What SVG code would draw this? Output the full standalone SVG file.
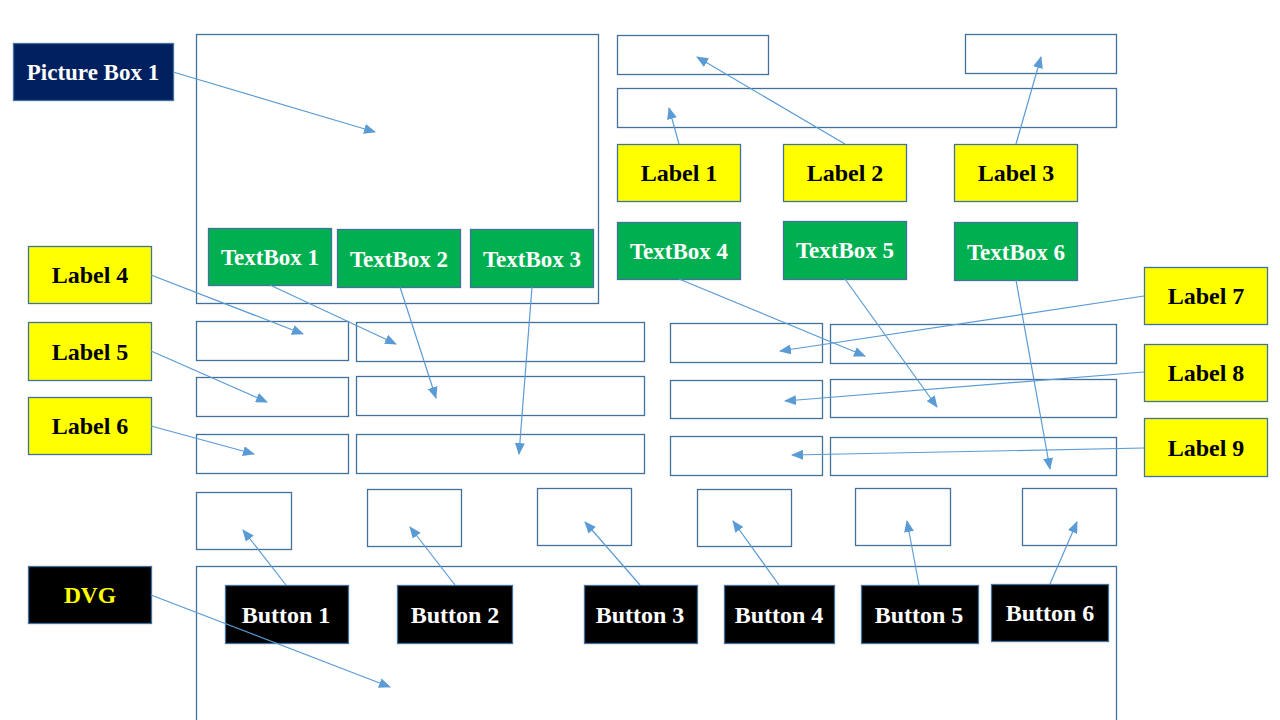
<svg xmlns="http://www.w3.org/2000/svg" width="1280" height="720" viewBox="0 0 1280 720">
<style>
.frame{fill:none;stroke:#41719C;stroke-width:1.3}
.yl{fill:#FFFF00;stroke:#41719C;stroke-width:1.3}
.gr{fill:#00B050;stroke:#41719C;stroke-width:1.3}
.nv{fill:#002060;stroke:#41719C;stroke-width:1.3}
.bk{fill:#000000;stroke:#41719C;stroke-width:1.3}
.t{font-family:"Liberation Serif","Times New Roman",serif;font-weight:bold;font-size:24px;text-anchor:middle}
.tb{fill:#000}
.tw{fill:#fff}
.ty{fill:#FFFF00}
.c{fill:none;stroke:#5B9BD5;stroke-width:1.2;marker-end:url(#ah)}
</style>
<defs>
<marker id="ah" markerUnits="userSpaceOnUse" markerWidth="12" markerHeight="10" refX="11" refY="5" orient="auto">
<path d="M0,0 L12,5 L0,10 Z" fill="#5B9BD5"/>
</marker>
</defs>
<rect width="1280" height="720" fill="#fff"/>
<g id="frames">
<rect id="picturebox" class="frame" x="196.5" y="34.5" width="402" height="269"/>
<rect class="frame" x="617.5" y="35.5" width="151" height="39"/>
<rect class="frame" x="965.5" y="34.5" width="151" height="39"/>
<rect class="frame" x="617.5" y="88.5" width="499" height="39"/>
<rect class="frame" x="196.5" y="321.5" width="152" height="39"/>
<rect class="frame" x="356.5" y="322.5" width="288" height="39"/>
<rect class="frame" x="196.5" y="377.5" width="152" height="39"/>
<rect class="frame" x="356.5" y="376.5" width="288" height="39"/>
<rect class="frame" x="196.5" y="434.5" width="152" height="39"/>
<rect class="frame" x="356.5" y="434.5" width="288" height="39"/>
<rect class="frame" x="670.5" y="323.5" width="152" height="39"/>
<rect class="frame" x="830.5" y="324.5" width="286" height="39"/>
<rect class="frame" x="670.5" y="380.5" width="152" height="38"/>
<rect class="frame" x="830.5" y="379.5" width="286" height="38"/>
<rect class="frame" x="670.5" y="436.5" width="152" height="39"/>
<rect class="frame" x="830.5" y="437.5" width="286" height="38"/>
<rect class="frame" x="196.5" y="492.5" width="95" height="57"/>
<rect class="frame" x="367.5" y="489.5" width="94" height="57"/>
<rect class="frame" x="537.5" y="488.5" width="94" height="57"/>
<rect class="frame" x="697.5" y="489.5" width="94" height="57"/>
<rect class="frame" x="855.5" y="488.5" width="95" height="57"/>
<rect class="frame" x="1022.5" y="488.5" width="94" height="57"/>
<rect id="dvgframe" class="frame" x="196.5" y="566.5" width="920" height="160"/>
</g>
<g id="picturebox1"><rect class="nv" x="13.5" y="43.5" width="160" height="57"/><text class="t tw" x="93" y="80" style="font-size:23px">Picture Box 1</text></g>
<g id="textbox1"><rect class="gr" x="208.5" y="228.5" width="123" height="57"/><text class="t tw" x="270" y="265" style="font-size:23px">TextBox 1</text></g>
<g id="textbox2"><rect class="gr" x="337.5" y="229.5" width="123" height="58"/><text class="t tw" x="399" y="267" style="font-size:23px">TextBox 2</text></g>
<g id="textbox3"><rect class="gr" x="470.5" y="229.5" width="123" height="58"/><text class="t tw" x="532" y="267" style="font-size:23px">TextBox 3</text></g>
<g id="textbox4"><rect class="gr" x="617.5" y="222.5" width="123" height="57"/><text class="t tw" x="679" y="259" style="font-size:23px">TextBox 4</text></g>
<g id="textbox5"><rect class="gr" x="783.5" y="221.5" width="123" height="58"/><text class="t tw" x="845" y="258" style="font-size:23px">TextBox 5</text></g>
<g id="textbox6"><rect class="gr" x="954.5" y="222.5" width="123" height="58"/><text class="t tw" x="1016" y="260" style="font-size:23px">TextBox 6</text></g>
<g id="label1"><rect class="yl" x="617.5" y="144.5" width="123" height="57"/><text class="t tb" x="679" y="181">Label 1</text></g>
<g id="label2"><rect class="yl" x="783.5" y="144.5" width="123" height="57"/><text class="t tb" x="845" y="181">Label 2</text></g>
<g id="label3"><rect class="yl" x="954.5" y="144.5" width="123" height="57"/><text class="t tb" x="1016" y="181">Label 3</text></g>
<g id="label4"><rect class="yl" x="28.5" y="246.5" width="123" height="57"/><text class="t tb" x="90" y="283">Label 4</text></g>
<g id="label5"><rect class="yl" x="28.5" y="322.5" width="123" height="58"/><text class="t tb" x="90" y="360">Label 5</text></g>
<g id="label6"><rect class="yl" x="28.5" y="397.5" width="123" height="57"/><text class="t tb" x="90" y="434">Label 6</text></g>
<g id="label7"><rect class="yl" x="1144.5" y="267.5" width="123" height="57"/><text class="t tb" x="1206" y="304">Label 7</text></g>
<g id="label8"><rect class="yl" x="1144.5" y="344.5" width="123" height="57"/><text class="t tb" x="1206" y="381">Label 8</text></g>
<g id="label9"><rect class="yl" x="1144.5" y="418.5" width="123" height="58"/><text class="t tb" x="1206" y="456">Label 9</text></g>
<g id="dvg"><rect class="bk" x="28.5" y="566.5" width="123" height="57"/><text class="t ty" x="90" y="603" style="font-size:23.5px">DVG</text></g>
<g id="button1"><rect class="bk" x="225.5" y="585.5" width="123" height="58"/><text class="t tw" x="286" y="623">Button 1</text></g>
<g id="button2"><rect class="bk" x="397.5" y="585.5" width="115" height="58"/><text class="t tw" x="455" y="623">Button 2</text></g>
<g id="button3"><rect class="bk" x="584.5" y="585.5" width="113" height="58"/><text class="t tw" x="640" y="623">Button 3</text></g>
<g id="button4"><rect class="bk" x="724.5" y="585.5" width="110" height="58"/><text class="t tw" x="779" y="623">Button 4</text></g>
<g id="button5"><rect class="bk" x="861.5" y="585.5" width="117" height="58"/><text class="t tw" x="919" y="623">Button 5</text></g>
<g id="button6"><rect class="bk" x="991.5" y="584.5" width="117" height="57"/><text class="t tw" x="1050" y="621">Button 6</text></g>
<g id="connectors">
<line class="c" x1="173" y1="72" x2="375" y2="132"/>
<line class="c" x1="679" y1="144" x2="669" y2="108"/>
<line class="c" x1="845" y1="144" x2="697" y2="57"/>
<line class="c" x1="1016" y1="144" x2="1041" y2="57"/>
<line class="c" x1="151" y1="275" x2="303" y2="334"/>
<line class="c" x1="270" y1="285" x2="396" y2="344"/>
<line class="c" x1="400" y1="287" x2="436" y2="398"/>
<line class="c" x1="532" y1="287" x2="519" y2="454"/>
<line class="c" x1="151" y1="351" x2="267" y2="402"/>
<line class="c" x1="151" y1="426" x2="254" y2="454"/>
<line class="c" x1="679" y1="279" x2="865" y2="356"/>
<line class="c" x1="845" y1="279" x2="937" y2="407"/>
<line class="c" x1="1016" y1="280" x2="1050" y2="469"/>
<line class="c" x1="1144" y1="296" x2="780" y2="351"/>
<line class="c" x1="1144" y1="372" x2="785" y2="401"/>
<line class="c" x1="1144" y1="448" x2="792" y2="455"/>
<line class="c" x1="286" y1="585" x2="243" y2="530"/>
<line class="c" x1="455" y1="585" x2="410" y2="527"/>
<line class="c" x1="640" y1="585" x2="585" y2="522"/>
<line class="c" x1="779" y1="585" x2="733" y2="521"/>
<line class="c" x1="919" y1="585" x2="907" y2="521"/>
<line class="c" x1="1050" y1="584" x2="1077" y2="522"/>
<line class="c" x1="151" y1="595" x2="390" y2="687"/>
</g>
</svg>
